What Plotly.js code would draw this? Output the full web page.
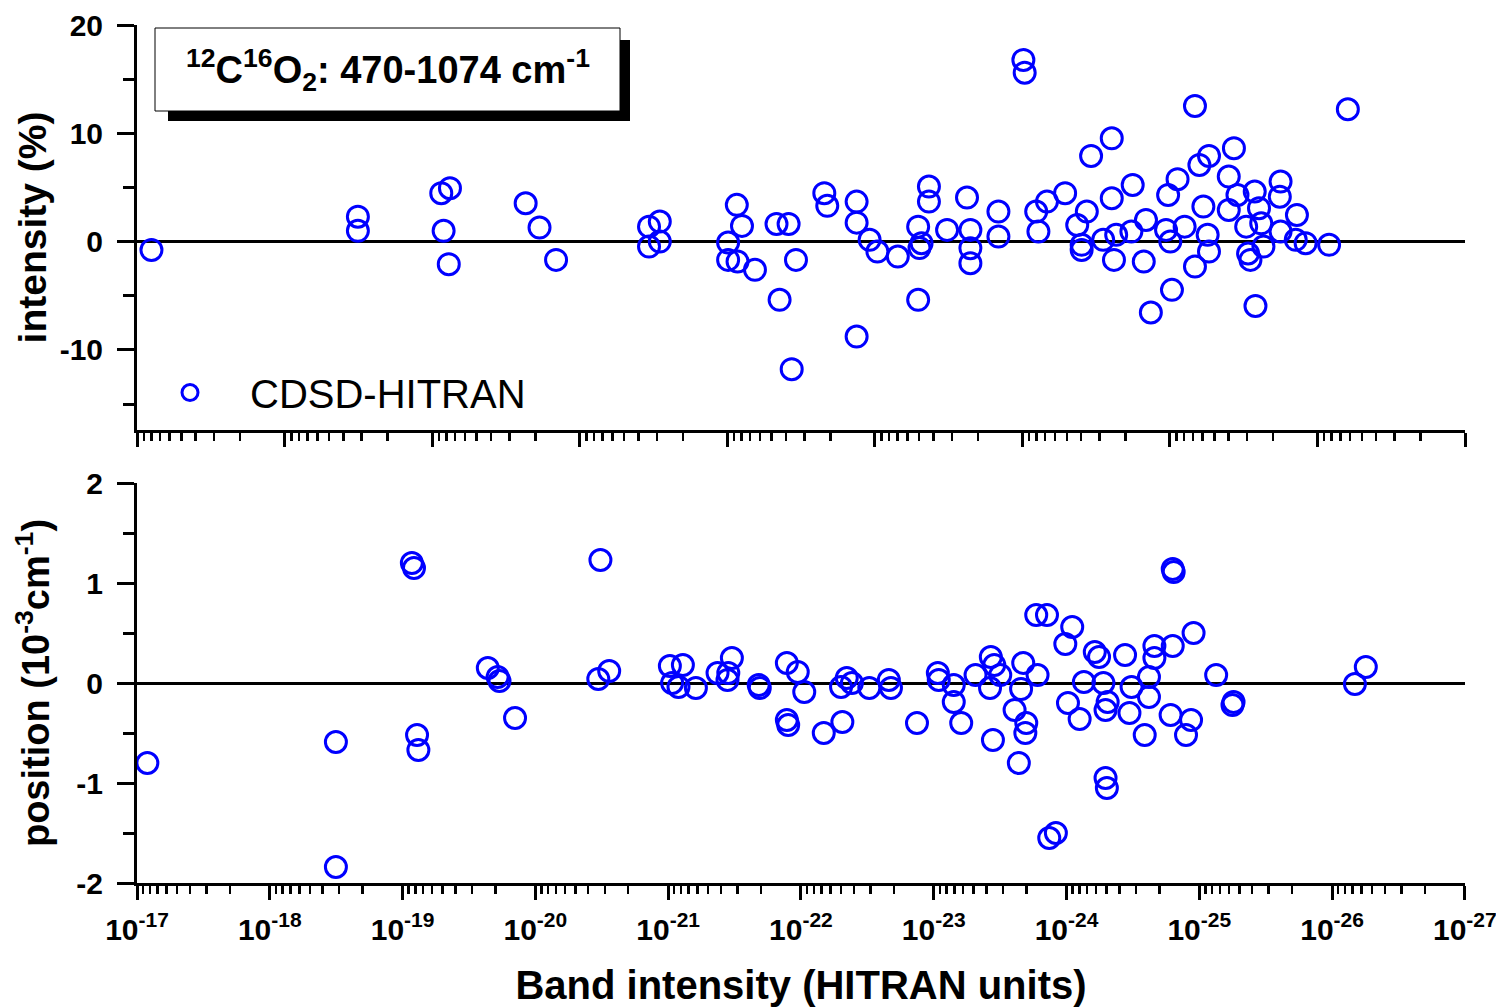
<!DOCTYPE html>
<html>
<head>
<meta charset="utf-8">
<script src="https://cdn.plot.ly/plotly-3.0.1.min.js"></script>
<style>html,body{margin:0;padding:0;background:#fff;}#chart{width:1496px;height:1007px;}</style>
</head>
<body>
<div id="chart"></div>
<script>
// ---- Data ----
// Top panel: log10 of band intensity (HITRAN units) and intensity deviation (%)
const topLogS = [-17.098,-18.497,-18.497,-19.062,-19.121,-19.078,-19.113,-19.634,-19.728,-19.840,
  -20.470,-20.543,-20.470,-20.543,-21.065,-21.100,-21.006,-21.006,-21.070,-21.188,
  -21.355,-21.334,-21.416,-21.466,-21.437,-21.658,-21.678,-21.877,-21.877,-21.965,
  -22.018,-22.156,-21.877,-22.294,-22.294,-22.317,-22.303,-22.367,-22.367,-22.490,
  -22.625,-22.648,-22.648,-22.648,-22.838,-22.838,-23.094,-23.109,-23.167,-23.290,
  -23.372,-23.437,-23.402,-23.402,-23.466,-23.606,-23.606,-23.548,-23.621,-23.636,
  -23.748,-23.739,-23.823,-23.838,-23.871,-23.007,-23.016,-23.988,-24.052,-24.003,
  -23.974,-24.100,-24.014,-24.170,-24.200,-24.265,-24.227,-24.256,-24.265,-24.170,
  -24.434,-24.399,-24.399,-24.458,-24.517,-24.546,-24.530,-24.575,-24.604,-24.619,
  -24.634,-24.580,-24.750,-24.745,-24.750,-24.861,-24.853,-24.920,-25.079,-25.206];
const topIntensityDev = [-0.77,2.30,0.99,4.47,4.93,0.99,-2.09,3.54,1.29,-1.69,
  1.38,1.85,-0.46,0.00,3.39,1.45,-0.09,-1.69,-1.85,-2.61,
  -5.38,1.63,1.63,-1.69,-11.78,4.47,3.30,3.69,1.75,0.16,
  -0.92,-1.38,-8.77,1.38,-5.38,-0.15,-0.60,5.08,3.69,1.08,
  4.06,1.08,-0.61,-2.00,2.77,0.46,2.77,0.92,3.69,4.47,
  1.54,2.77,-0.77,-0.30,7.91,9.54,4.00,0.16,-1.69,0.62,
  5.23,0.92,-1.85,2.00,-6.55,16.77,15.60,4.31,5.76,0.00,
  1.08,1.38,-4.46,12.53,7.08,7.91,3.23,0.62,-0.92,-2.31,
  8.62,6.00,2.92,4.31,1.38,-1.69,-1.10,4.62,3.08,1.69,
  -0.46,-5.94,5.54,4.15,0.92,2.46,0.16,-0.15,-0.30,12.22];

// Bottom panel: log10 of band intensity and position deviation (10^-3 cm^-1)
const botLogS = [-17.078,-18.498,-18.498,-19.070,-19.086,-19.109,-19.119,-19.642,-19.716,-19.730,
  -19.847,-20.490,-20.474,-20.556,-21.013,-21.030,-21.111,-21.078,-21.209,-21.372,
  -21.447,-21.480,-21.453,-21.682,-21.690,-21.894,-21.894,-21.904,-21.976,-22.025,
  -22.172,-22.312,-22.302,-22.345,-22.384,-22.515,-22.662,-22.678,-22.874,-23.031,
  -23.038,-23.151,-23.151,-23.207,-23.315,-23.430,-23.456,-23.501,-23.424,-23.446,
  -23.674,-23.782,-23.658,-23.609,-23.697,-23.690,-23.641,-23.772,-23.853,-24.043,
  -23.991,-23.870,-23.920,-24.011,-24.099,-24.131,-24.213,-24.245,-24.278,-24.310,
  -24.294,-24.294,-24.304,-24.441,-24.474,-24.490,-24.589,-24.621,-24.621,-24.662,
  -24.662,-24.800,-24.784,-24.807,-24.800,-24.957,-24.938,-24.900,-25.127,-25.258,
  -25.250,-26.172,-26.254];
const botPositionDev = [-0.80,-0.59,-1.84,1.20,1.15,-0.52,-0.67,0.15,0.06,0.02,
  -0.35,1.23,0.04,0.12,0.17,0.00,0.18,-0.04,-0.05,0.10,
  0.03,0.25,0.10,-0.02,-0.05,0.20,-0.37,-0.42,0.11,-0.09,
  -0.50,-0.39,-0.04,0.05,0.00,-0.05,0.03,-0.05,-0.40,0.10,
  0.03,-0.02,-0.19,-0.40,0.08,0.26,0.18,0.08,-0.05,-0.57,
  0.20,0.08,-0.06,-0.27,-0.40,-0.50,-0.80,0.68,0.68,0.56,
  0.39,-1.55,-1.50,-0.20,-0.36,0.01,0.31,0.26,0.00,-0.19,
  -0.27,-0.95,-1.05,0.28,-0.30,-0.04,-0.52,0.06,-0.14,0.25,
  0.37,0.37,-0.32,1.11,1.14,0.50,-0.37,-0.52,0.08,-0.19,
  -0.22,-0.01,0.16];

const decadeVals = [1e-17,1e-18,1e-19,1e-20,1e-21,1e-22,1e-23,1e-24,1e-25,1e-26,1e-27];
const decadeExps = ['-17','-18','-19','-20','-21','-22','-23','-24','-25','-26','-27'];
const seriesName = 'CDSD-HITRAN';

// ---- Build chart ----
const W = 1496, H = 1007;
const px = v => v / W;
const py = v => 1 - v / H;
const FONT = 'Liberation Sans, Arial, Helvetica, sans-serif';
const blue = 'rgb(0,0,255)';

const marker = {symbol: 'circle-open', size: 21, color: blue, line: {width: 3, color: blue}};

const traces = [
  {x: topLogS.map(v => Math.pow(10, v)), y: topIntensityDev, type: 'scatter', mode: 'markers',
   name: seriesName, marker: marker, xaxis: 'x', yaxis: 'y', cliponaxis: false},
  {x: botLogS.map(v => Math.pow(10, v)), y: botPositionDev, type: 'scatter', mode: 'markers',
   name: seriesName, marker: marker, xaxis: 'x2', yaxis: 'y2', showlegend: false, cliponaxis: false}
];

const xDom = [px(137), px(1465)];
const axisCommon = {showline: true, linecolor: 'black', linewidth: 3, showgrid: false,
  ticks: 'outside', tickcolor: 'black', tickwidth: 3, mirror: false};

const layout = {
  width: W, height: H,
  margin: {l: 0, r: 0, t: 0, b: 0},
  paper_bgcolor: 'white', plot_bgcolor: 'white',
  font: {family: FONT, color: 'black'},
  showlegend: true,
  legend: {x: px(130), y: py(360), xanchor: 'left', yanchor: 'top', bgcolor: 'rgba(0,0,0,0)',
    font: {family: FONT, size: 40, color: 'black'}, itemwidth: 110},
  xaxis: Object.assign({}, axisCommon, {
    type: 'log', range: [-17, -26], domain: xDom, anchor: 'y',
    dtick: 1, ticklen: 14, showticklabels: false, zeroline: false,
    minor: {ticks: 'outside', ticklen: 8, tickwidth: 2.5, tickcolor: 'black', dtick: 'D1', showgrid: false}
  }),
  yaxis: Object.assign({}, axisCommon, {
    range: [-17.4, 20], domain: [py(430), py(25)], anchor: 'x',
    tickmode: 'array', tickvals: [-10, 0, 10, 20], ticktext: ['-10', '0', '10', '20'],
    ticklen: 17, ticklabelstandoff: 8,
    tickfont: {family: FONT, size: 30, weight: 'bold', color: 'black'},
    minor: {ticks: 'outside', ticklen: 11, tickwidth: 3, tickcolor: 'black', tickmode: 'array', tickvals: [-15, -5, 5, 15], showgrid: false},
    zeroline: true, zerolinecolor: 'black', zerolinewidth: 3,
    title: {text: 'intensity (%)', font: {family: FONT, size: 39, weight: 'bold', color: 'black'}, standoff: 1}
  }),
  xaxis2: Object.assign({}, axisCommon, {
    type: 'log', range: [-17, -27.001], domain: xDom, anchor: 'y2',
    tickmode: 'array', tickvals: decadeVals,
    ticktext: decadeExps.map(e => '10<sup>' + e + '</sup>'),
    ticklen: 14, ticklabelstandoff: 4, zeroline: false, ticklabeloverflow: 'allow',
    tickfont: {family: FONT, size: 30, weight: 'bold', color: 'black'},
    minor: {ticks: 'outside', ticklen: 8, tickwidth: 2.5, tickcolor: 'black', dtick: 'D1', showgrid: false},
    title: {text: 'Band intensity (HITRAN units)', font: {family: FONT, size: 40, weight: 'bold', color: 'black'}, standoff: 36}
  }),
  yaxis2: Object.assign({}, axisCommon, {
    range: [-2, 2], domain: [py(883), py(483)], anchor: 'x2',
    tickmode: 'array', tickvals: [-2, -1, 0, 1, 2], ticktext: ['-2', '-1', '0', '1', '2'],
    ticklen: 17, ticklabelstandoff: 8,
    tickfont: {family: FONT, size: 30, weight: 'bold', color: 'black'},
    minor: {ticks: 'outside', ticklen: 11, tickwidth: 3, tickcolor: 'black', tickmode: 'array', tickvals: [-1.5, -0.5, 0.5, 1.5], showgrid: false},
    zeroline: true, zerolinecolor: 'black', zerolinewidth: 3,
    title: {text: 'position (10<sup>-3</sup>cm<sup>-1</sup>)', font: {family: FONT, size: 38, weight: 'bold', color: 'black'}, standoff: 16}
  }),
  shapes: [
    {type: 'rect', xref: 'paper', yref: 'paper', x0: px(168), x1: px(630), y0: py(121), y1: py(40),
     fillcolor: 'black', line: {width: 0}, layer: 'above'},
    {type: 'rect', xref: 'paper', yref: 'paper', x0: px(155), x1: px(620), y0: py(111), y1: py(28),
     fillcolor: 'white', line: {width: 1, color: 'black'}, layer: 'above'}
  ],
  annotations: [
    {xref: 'paper', yref: 'paper', x: px(388), y: py(70), xanchor: 'center', yanchor: 'middle',
     showarrow: false,
     text: '<sup>12</sup>C<sup>16</sup>O<sub>2</sub>: 470-1074 cm<sup>-1</sup>',
     font: {family: FONT, size: 38, weight: 'bold', color: 'black'}}
  ]
};

Plotly.newPlot('chart', traces, layout, {displayModeBar: false, staticPlot: true});
</script>
</body>
</html>
